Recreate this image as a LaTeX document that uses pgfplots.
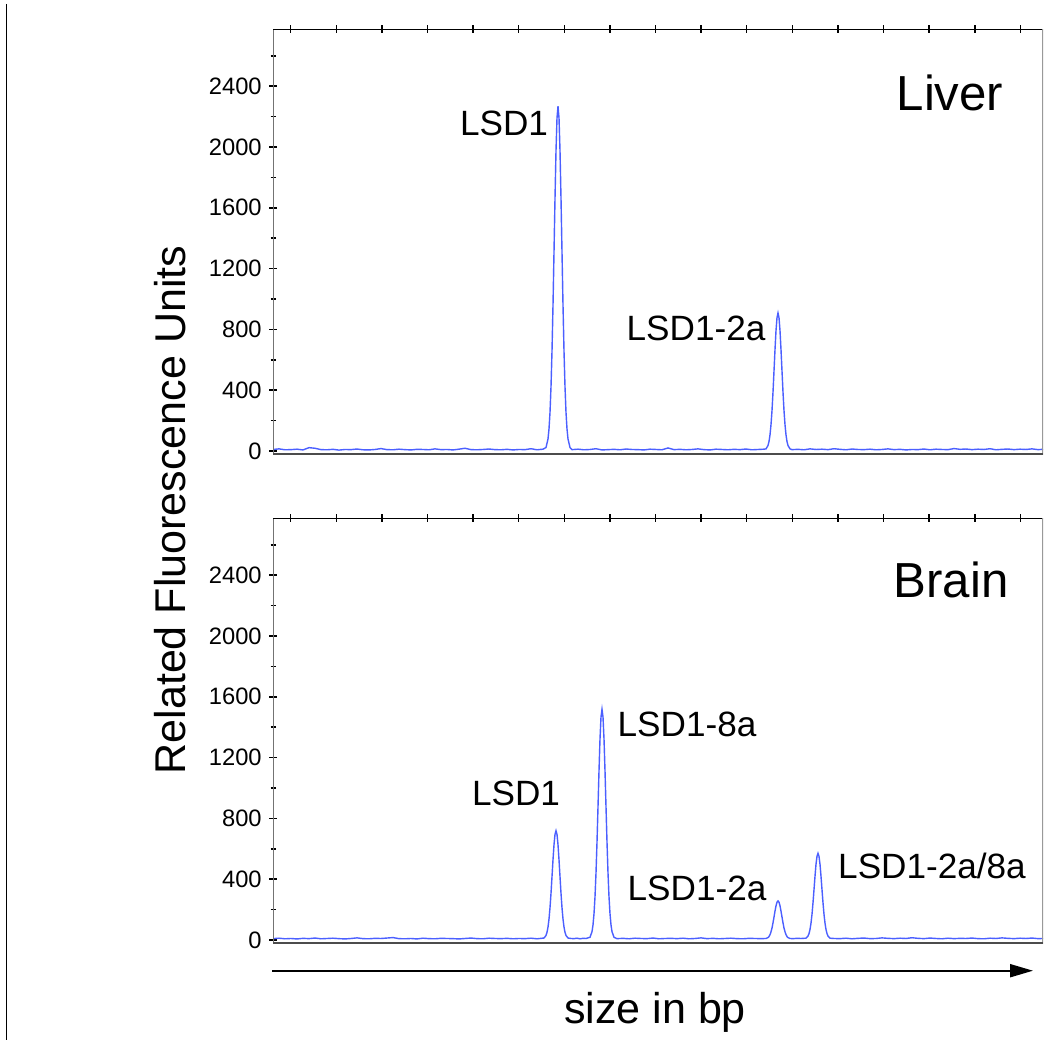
\documentclass[border=0pt]{standalone}
\usepackage{pgfplots}
\pgfplotsset{compat=1.18}
\usepackage{fontspec}
\setmainfont{Liberation Sans}
\usetikzlibrary{arrows.meta}
\definecolor{trace}{RGB}{75,95,255}

\pgfplotstableread{
x y
273 10
279 14
285 8
291 9
297 12
303 7
309 22
315 18
321 9
327 8
333 11
339 6
345 10
351 9
357 13
363 8
369 7
375 10
381 16
387 9
393 8
399 12
405 9
411 7
417 11
423 10
429 8
435 14
441 9
447 10
453 7
459 12
465 18
471 9
477 8
483 10
489 13
495 9
501 8
507 11
513 7
519 10
525 9
531 15
537 8
543 12
546 23
548 79
549 145
550 254
551 422
552 657
553 959
554 1308
555 1662
556 1976
557 2191
558 2268
559 2191
560 1976
561 1662
562 1308
563 959
564 657
565 422
566 254
567 145
568 79
570 23
572 9
578 12
584 8
590 10
596 15
602 7
608 9
614 11
620 8
626 13
632 10
638 9
644 7
650 12
656 10
662 8
668 20
674 9
680 11
686 8
692 10
698 14
704 9
710 7
716 12
722 10
728 8
734 11
740 9
746 13
752 8
758 10
764 12
766 14
768 36
769 62
770 106
771 173
772 266
773 387
774 526
775 667
776 792
777 877
778 908
779 877
780 792
781 667
782 526
783 387
784 266
785 173
786 106
787 62
788 36
790 14
792 9
798 11
804 8
810 14
816 10
822 12
828 9
834 15
840 11
846 8
852 13
858 10
864 9
870 12
876 8
882 10
888 14
894 9
900 11
906 7
912 10
918 9
924 13
930 8
936 12
942 10
948 9
954 16
960 11
966 13
972 9
978 12
984 10
990 15
996 8
1002 11
1008 13
1014 9
1020 12
1026 10
1032 14
1038 9
1043 11
}\liver

\pgfplotstableread{
x y
273 9
279 12
285 8
291 10
297 7
303 11
309 9
315 13
321 8
327 10
333 12
339 9
345 7
351 10
357 14
363 9
369 8
375 11
381 10
387 13
393 16
399 9
405 8
411 10
417 7
423 12
429 9
435 8
441 11
447 10
453 9
459 7
465 10
471 13
477 9
483 8
489 12
495 10
501 9
507 11
513 8
519 10
525 9
531 12
537 8
544 13
546 30
547 51
548 85
549 138
550 212
551 307
552 417
553 528
554 627
555 695
556 719
557 695
558 627
559 528
560 417
561 307
562 212
563 138
564 85
565 51
566 30
568 13
571 10
574 9
577 12
580 8
583 11
586 10
590 18
592 55
593 99
594 173
595 284
596 441
597 644
598 876
599 1113
600 1323
601 1467
602 1518
603 1467
604 1323
605 1113
606 876
607 644
608 441
609 284
610 173
611 99
612 55
614 18
617 9
623 11
629 8
635 12
641 10
647 9
653 13
659 8
665 10
671 11
677 9
683 12
689 8
695 10
701 14
707 9
713 11
719 8
725 10
731 12
737 9
743 8
749 11
755 10
761 9
766 10
768 16
769 23
770 35
771 54
772 79
773 113
774 151
775 190
776 225
777 249
778 257
779 249
780 225
781 190
782 151
783 113
784 79
785 54
786 35
787 23
788 16
790 10
793 9
797 11
801 10
806 12
808 26
809 42
810 69
811 111
812 169
813 245
814 331
815 419
816 498
817 551
818 570
819 551
820 498
821 419
822 331
823 245
824 169
825 111
826 69
827 42
828 26
830 12
834 10
840 9
846 12
852 8
858 11
864 13
870 9
876 10
882 14
888 11
894 9
900 12
906 10
912 15
918 11
924 9
930 13
936 10
942 8
948 12
954 9
960 11
966 10
972 13
978 9
984 8
990 12
996 10
1002 14
1008 11
1014 9
1020 12
1026 10
1032 13
1038 9
1043 10
}\brain

\pgfplotsset{
  panel/.style={
    scale only axis,
    width=15.4cm, height=8.512cm,
    xmin=273, xmax=1043,
    ymin=-25, ymax=2775,
    axis line style={draw=none},
    xtick={290.7,336.3,381.9,427.5,473.1,518.7,564.3,609.9,655.5,701.1,746.7,792.3,837.9,883.5,929.1,974.7,1020.3},
    xticklabels={},
    xtick pos=right,
    ytick={0,400,800,1200,1600,2000,2400},
    minor ytick={200,600,1000,1400,1800,2200,2600},
    ytick pos=left,
    tick align=center,
    major tick length=0.16cm,
    minor tick length=0.1cm,
    every tick/.style={black, line width=0.9pt},
    /pgf/number format/assume math mode=true,
    /pgf/number format/1000 sep={},
    yticklabel style={font=\fontsize{13.5}{13.5}\selectfont, anchor=east, inner sep=0pt, xshift=-0.14cm},
  },
}

\begin{document}
\begin{tikzpicture}
\useasboundingbox (0,0) rectangle (20.94,-20.94);
\draw[black, line width=0.028cm] (0.13,-0.08) -- (0.13,-20.8);

\begin{axis}[panel, at={(5.46cm,-9.096cm)}, anchor=south west]
\addplot[trace, line width=0.8pt] table[x=x,y=y] {\liver};
\draw[black!55, line width=0.03cm] (rel axis cs:0,0) -- (rel axis cs:0,1);
\draw[black, line width=0.04cm] (rel axis cs:0,1) -- (rel axis cs:1,1);
\draw[black!40, line width=0.03cm] (rel axis cs:1,1) -- (rel axis cs:1,0);
\draw[black!70, line width=0.07cm] (rel axis cs:0,0) -- (rel axis cs:1,0);
\end{axis}

\begin{axis}[panel, at={(5.46cm,-18.876cm)}, anchor=south west]
\addplot[trace, line width=0.8pt] table[x=x,y=y] {\brain};
\draw[black!55, line width=0.03cm] (rel axis cs:0,0) -- (rel axis cs:0,1);
\draw[black, line width=0.04cm] (rel axis cs:0,1) -- (rel axis cs:1,1);
\draw[black!40, line width=0.03cm] (rel axis cs:1,1) -- (rel axis cs:1,0);
\draw[black!70, line width=0.07cm] (rel axis cs:0,0) -- (rel axis cs:1,0);
\end{axis}

% panel titles
\node[font=\fontsize{28}{28}\selectfont, text depth=0pt] at (19.0,-1.86) {Liver};
\node[font=\fontsize{28}{28}\selectfont, text depth=0pt] at (19.02,-11.6) {Brain};
% peak labels
\node[font=\fontsize{20}{20}\selectfont, text depth=0pt] at (10.08,-2.46) {LSD1};
\node[font=\fontsize{20}{20}\selectfont, text depth=0pt] at (13.92,-6.56) {LSD1-2a};
\node[font=\fontsize{20}{20}\selectfont, text depth=0pt] at (10.32,-15.86) {LSD1};
\node[font=\fontsize{20}{20}\selectfont, text depth=0pt] at (13.74,-14.48) {LSD1-8a};
\node[font=\fontsize{20}{20}\selectfont, text depth=0pt] at (13.94,-17.76) {LSD1-2a};
\node[font=\fontsize{20}{20}\selectfont, text depth=0pt] at (18.64,-17.32) {LSD1-2a/8a};
% axis titles
\node[font=\fontsize{24.5}{24.5}\selectfont, rotate=90, text depth=0pt] at (3.4,-10.2) {Related Fluorescence Units};
\draw[black, line width=0.04cm, -{Triangle[length=0.46cm,width=0.26cm]}] (5.44,-19.414) -- (20.66,-19.414);
\node[font=\fontsize{24.5}{24.5}\selectfont, anchor=base] at (13.1,-20.46) {size in bp};
\end{tikzpicture}
\end{document}
